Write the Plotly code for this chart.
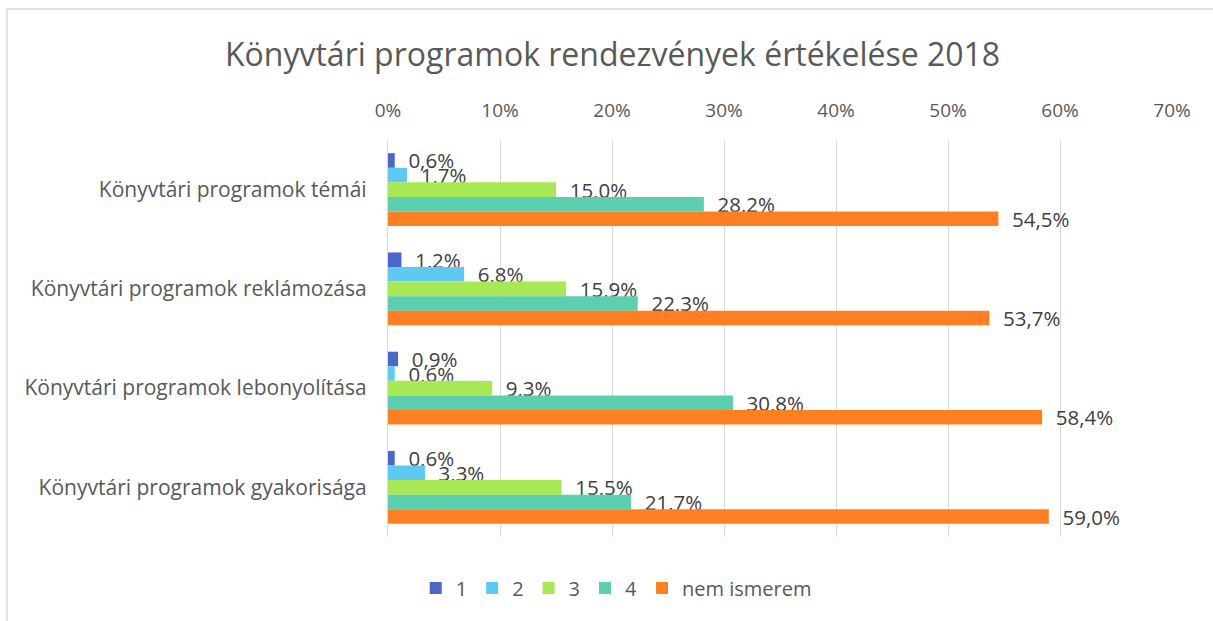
import plotly.graph_objects as go

categories = [
    "Könyvtári programok témái",
    "Könyvtári programok reklámozása",
    "Könyvtári programok lebonyolítása",
    "Könyvtári programok gyakorisága",
]
series_names = ["1", "2", "3", "4", "nem ismerem"]
values_1 = [0.6, 1.2, 0.9, 0.6]
values_2 = [1.7, 6.8, 0.6, 3.3]
values_3 = [15.0, 15.9, 9.3, 15.5]
values_4 = [28.2, 22.3, 30.8, 21.7]
values_nem = [54.5, 53.7, 58.4, 59.0]
tick_values = [0, 10, 20, 30, 40, 50, 60, 70]
tick_labels = [f"{v}%" for v in tick_values]

colors = ["#4a66c8", "#5ecaf2", "#a8e855", "#5ccfb0", "#ff8022"]
all_values = [values_1, values_2, values_3, values_4, values_nem]

FONT = "'Open Sans', sans-serif"
TXT = "#595959"

fig = go.Figure()
for name, vals, col in zip(series_names, all_values, colors):
    fig.add_trace(go.Bar(
        y=categories, x=vals, name=name, orientation="h",
        marker=dict(color=col, line=dict(width=0)),
        texttemplate="\u00a0\u00a0%{x:.1f}%",
        textposition="outside",
        constraintext="none",
        cliponaxis=False,
        outsidetextfont=dict(size=20.5, color="#404040", family=FONT),
        hovertemplate="%{y}: %{x:.1f}%<extra>" + name + "</extra>",
    ))

fig.update_layout(
    width=1213, height=621,
    margin=dict(l=388, r=41, t=140, b=84),
    paper_bgcolor="white", plot_bgcolor="white",
    separators=",.",
    barmode="group", bargap=0.266, bargroupgap=0,
    font=dict(family=FONT, color=TXT, size=19),
    title=dict(
        text="Könyvtári programok rendezvények értékelése 2018",
        font=dict(size=32, color=TXT, family=FONT),
        x=0.505, xanchor="center", xref="container",
        y=1 - 55 / 621, yanchor="middle", yref="container",
    ),
    xaxis=dict(
        side="top", range=[0, 70], tickmode="array",
        tickvals=tick_values, ticktext=tick_labels,
        showgrid=True, gridcolor="#d9d9d9", gridwidth=1.3,
        zeroline=False, showline=False,
        ticks="outside", ticklen=14, tickcolor="rgba(0,0,0,0)",
        tickfont=dict(size=19, color=TXT),
    ),
    yaxis=dict(
        autorange="reversed", showgrid=False, zeroline=False,
        showline=True, linecolor="#d9d9d9", linewidth=1.3,
        ticks="outside", ticklen=16, tickcolor="rgba(0,0,0,0)",
        tickfont=dict(size=21, color=TXT),
    ),
    legend=dict(
        orientation="h", xref="container", yref="container",
        x=0.508, xanchor="center", y=1 - 588 / 621, yanchor="middle",
        font=dict(size=20, color=TXT), traceorder="normal",
        itemwidth=30,
    ),
    showlegend=True,
    shapes=[dict(
        type="rect", xref="paper", yref="paper",
        x0=(7 - 388) / 784, x1=(1225 - 388) / 784,
        y0=(537 - 640) / 397, y1=(537 - 9) / 397,
        line=dict(color="#d9d9d9", width=1.5), fillcolor="rgba(0,0,0,0)",
        layer="below",
    )],
)

fig.write_html(
    "out.html",
    config={"displayModeBar": False},
    post_script="document.body.style.margin='0';document.body.style.overflow='hidden';",
)
